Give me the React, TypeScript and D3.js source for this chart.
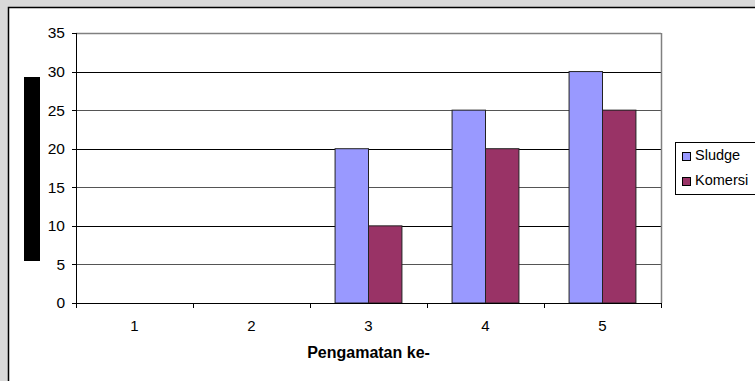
import React from "react";
import * as d3 from "d3";

const categories = ["1", "2", "3", "4", "5"];
const sludge = [0, 0, 20, 25, 30];
const komersi = [0, 0, 10, 20, 25];
const seriesNames = ["Sludge", "Komersi"];
const seriesColors = ["#9999ff", "#993366"];
const yTicks = [0, 5, 10, 15, 20, 25, 30, 35];
const xTitle = "Pengamatan ke-";

export default function App() {
  const W = 755, H = 381;
  const left = 76, right = 661, top = 33, bottom = 303;
  const x = d3.scaleBand<string>().domain(categories).range([left, right]).paddingInner(0).paddingOuter(0);
  const y = d3.scaleLinear().domain([0, 35]).range([bottom, top]);
  const bw = x.bandwidth();
  const barW = bw / 3.5;
  const series = [sludge, komersi];
  const font = "'Liberation Sans', Arial, sans-serif";

  return (
    <svg width={W} height={H} style={{ position: "absolute", left: 0, top: 0 }} fontFamily={font}>
      <rect x={0} y={0} width={W} height={H} fill="#d9d9d9" />
      <rect x={8.5} y={7.5} width={W} height={H} fill="#ffffff" stroke="#000" strokeWidth={1.5} />
      {/* gridlines */}
      {yTicks.slice(1).map((t) => (
        <line key={t} x1={left} x2={right} y1={Math.round(y(t)) + 0.5} y2={Math.round(y(t)) + 0.5} stroke={t % 10 === 0 ? "#000" : "#555"} strokeWidth={1} />
      ))}
      {/* plot border */}
      <line x1={right + 0.5} x2={right + 0.5} y1={top} y2={bottom} stroke="#808080" strokeWidth={1.5} />
      <line x1={left} x2={right} y1={top + 0.5} y2={top + 0.5} stroke="#808080" strokeWidth={1.5} />
      {/* bars */}
      {categories.map((c, i) =>
        series.map((s, j) => {
          if (s[i] <= 0) return null;
          const x0 = (x(c) as number) + (bw - 2 * barW) / 2 + j * barW;
          return (
            <rect key={c + j} x={x0} y={y(s[i])} width={barW} height={bottom - y(s[i])} fill={seriesColors[j]} stroke="#222" strokeWidth={1} />
          );
        })
      )}
      {/* axes */}
      <line x1={left + 0.5} x2={left + 0.5} y1={top} y2={bottom} stroke="#000" strokeWidth={1} />
      <line x1={left} x2={right} y1={bottom + 0.5} y2={bottom + 0.5} stroke="#000" strokeWidth={1} />
      {yTicks.map((t) => (
        <g key={t}>
          <line x1={left - 4} x2={left} y1={Math.round(y(t)) + 0.5} y2={Math.round(y(t)) + 0.5} stroke="#000" />
          <text x={65} y={y(t)} dy="0.35em" textAnchor="end" fontSize={15.5} fill="#000">{t}</text>
        </g>
      ))}
      {categories.map((c) => (
        <line key={"t" + c} x1={Math.round(x(c) as number) + 0.5} x2={Math.round(x(c) as number) + 0.5} y1={bottom} y2={bottom + 5} stroke="#000" />
      ))}
      <line x1={right + 0.5} x2={right + 0.5} y1={bottom} y2={bottom + 5} stroke="#000" />
      {categories.map((c) => (
        <text key={"l" + c} x={(x(c) as number) + bw / 2} y={326} dy="0.35em" textAnchor="middle" fontSize={15} fill="#000">{c}</text>
      ))}
      <text x={(left + right) / 2} y={352} dy="0.35em" textAnchor="middle" fontSize={16} fontWeight="bold" fill="#000">{xTitle}</text>
      {/* redacted y-axis title */}
      <rect x={24} y={77} width={16} height={184} fill="#000" />
      {/* legend */}
      <rect x={675.5} y={142.5} width={100} height={52} fill="#fff" stroke="#000" strokeWidth={1} />
      {seriesNames.map((n, j) => (
        <g key={n}>
          <rect x={682.5} y={152.5 + j * 25} width={8} height={8} fill={seriesColors[j]} stroke="#000" strokeWidth={1} />
          <text x={695} y={155 + j * 25} dy="0.35em" fontSize={14.5} fill="#000">{n}</text>
        </g>
      ))}
    </svg>
  );
}
